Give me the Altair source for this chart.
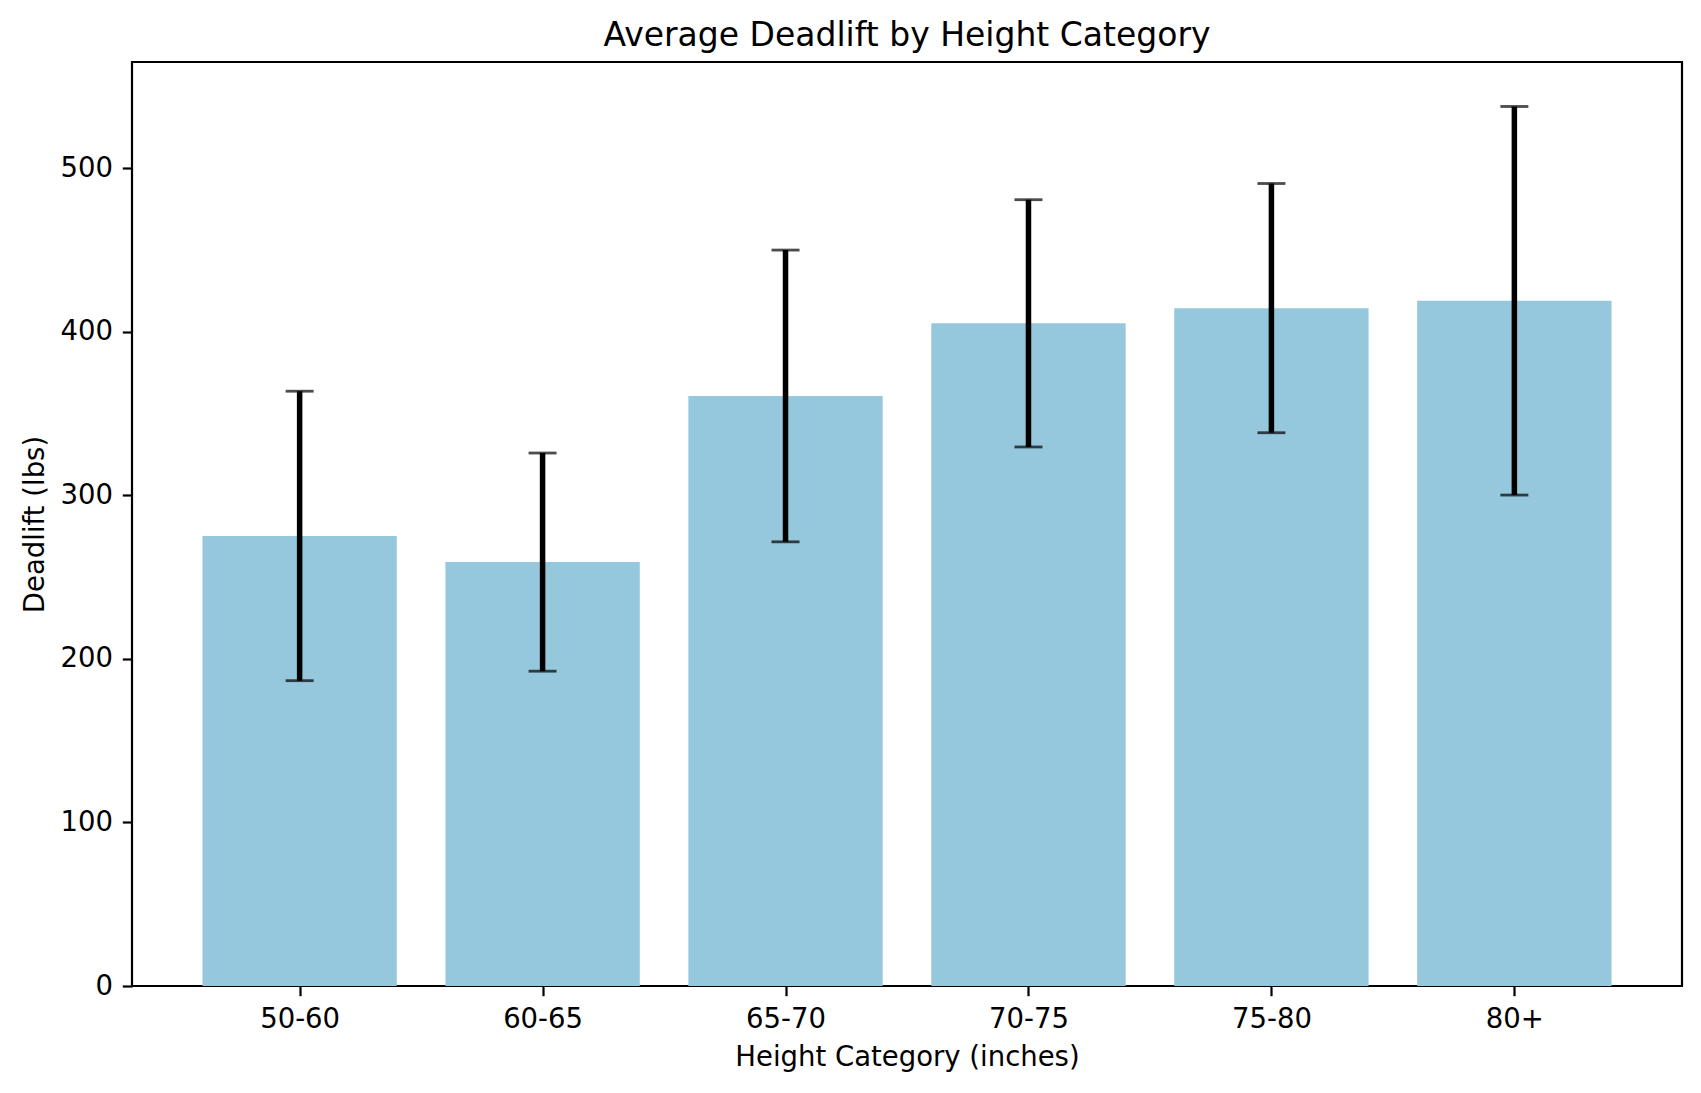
import altair as alt
import pandas as pd

categories = ["50-60", "60-65", "65-70", "70-75", "75-80", "80+"]
means = [275.2, 259.2, 360.8, 405.2, 414.5, 419.0]
errors = [88.5, 66.7, 89.2, 75.6, 76.2, 118.8]

df = pd.DataFrame({"idx": list(range(len(categories))), "cat": categories,
                   "mean": means, "err": errors})
df["x0"] = df["idx"] - 0.4
df["x1"] = df["idx"] + 0.4
df["lo"] = df["mean"] - df["err"]
df["hi"] = df["mean"] + df["err"]

FONT = "DejaVu Sans"
xscale = alt.Scale(domain=[-0.69, 5.69], nice=False, zero=False)
yscale = alt.Scale(domain=[0, 565], nice=False)

label_expr = "[" + ",".join(f"'{c}'" for c in categories) + "][datum.value]"

common_axis = dict(grid=False, domain=False, tickColor="black", tickWidth=2.2,
                   tickSize=9.7, labelPadding=9.7, labelFont=FONT, labelFontSize=27.5,
                   labelColor="black", titleFont=FONT, titleFontSize=27.5,
                   titleFontWeight="normal", titleColor="black",
                   labelFlush=False, labelOverlap=False)

xaxis = alt.Axis(values=list(range(len(categories))), labelExpr=label_expr,
                 title="Height Category (inches)", titlePadding=11, **common_axis)
yaxis = alt.Axis(values=[0, 100, 200, 300, 400, 500], title="Deadlift (lbs)",
                 titlePadding=11, **common_axis)

base = alt.Chart(df)

bars = base.mark_bar(color="#96c8dd").encode(
    x=alt.X("x0:Q", scale=xscale, axis=xaxis),
    x2="x1:Q",
    y=alt.Y("mean:Q", scale=yscale, axis=yaxis),
    y2=alt.datum(0),
)

rules = base.mark_rule(color="black", strokeWidth=5.5).encode(
    x=alt.X("idx:Q", scale=xscale),
    y=alt.Y("lo:Q", scale=yscale),
    y2="hi:Q",
)

cap_hi = base.mark_tick(orient="horizontal", size=28, thickness=2.8, color="black").encode(
    x=alt.X("idx:Q", scale=xscale),
    y=alt.Y("hi:Q", scale=yscale),
)
cap_lo = base.mark_tick(orient="horizontal", size=28, thickness=2.8, color="black").encode(
    x=alt.X("idx:Q", scale=xscale),
    y=alt.Y("lo:Q", scale=yscale),
)

chart = alt.layer(bars, rules, cap_hi, cap_lo).properties(
    width=1550,
    height=924,
    title=alt.TitleParams("Average Deadlift by Height Category", font=FONT, fontSize=33,
                          fontWeight="normal", color="black", anchor="middle",
                          offset=9),
    autosize=alt.AutoSizeParams(type="none"),
    padding={"left": 124, "top": 54, "right": 11, "bottom": 99},
    background="white",
).configure_view(stroke="black", strokeWidth=2.2)

chart.save("out.html", embed_options={"renderer": "svg", "actions": False})
